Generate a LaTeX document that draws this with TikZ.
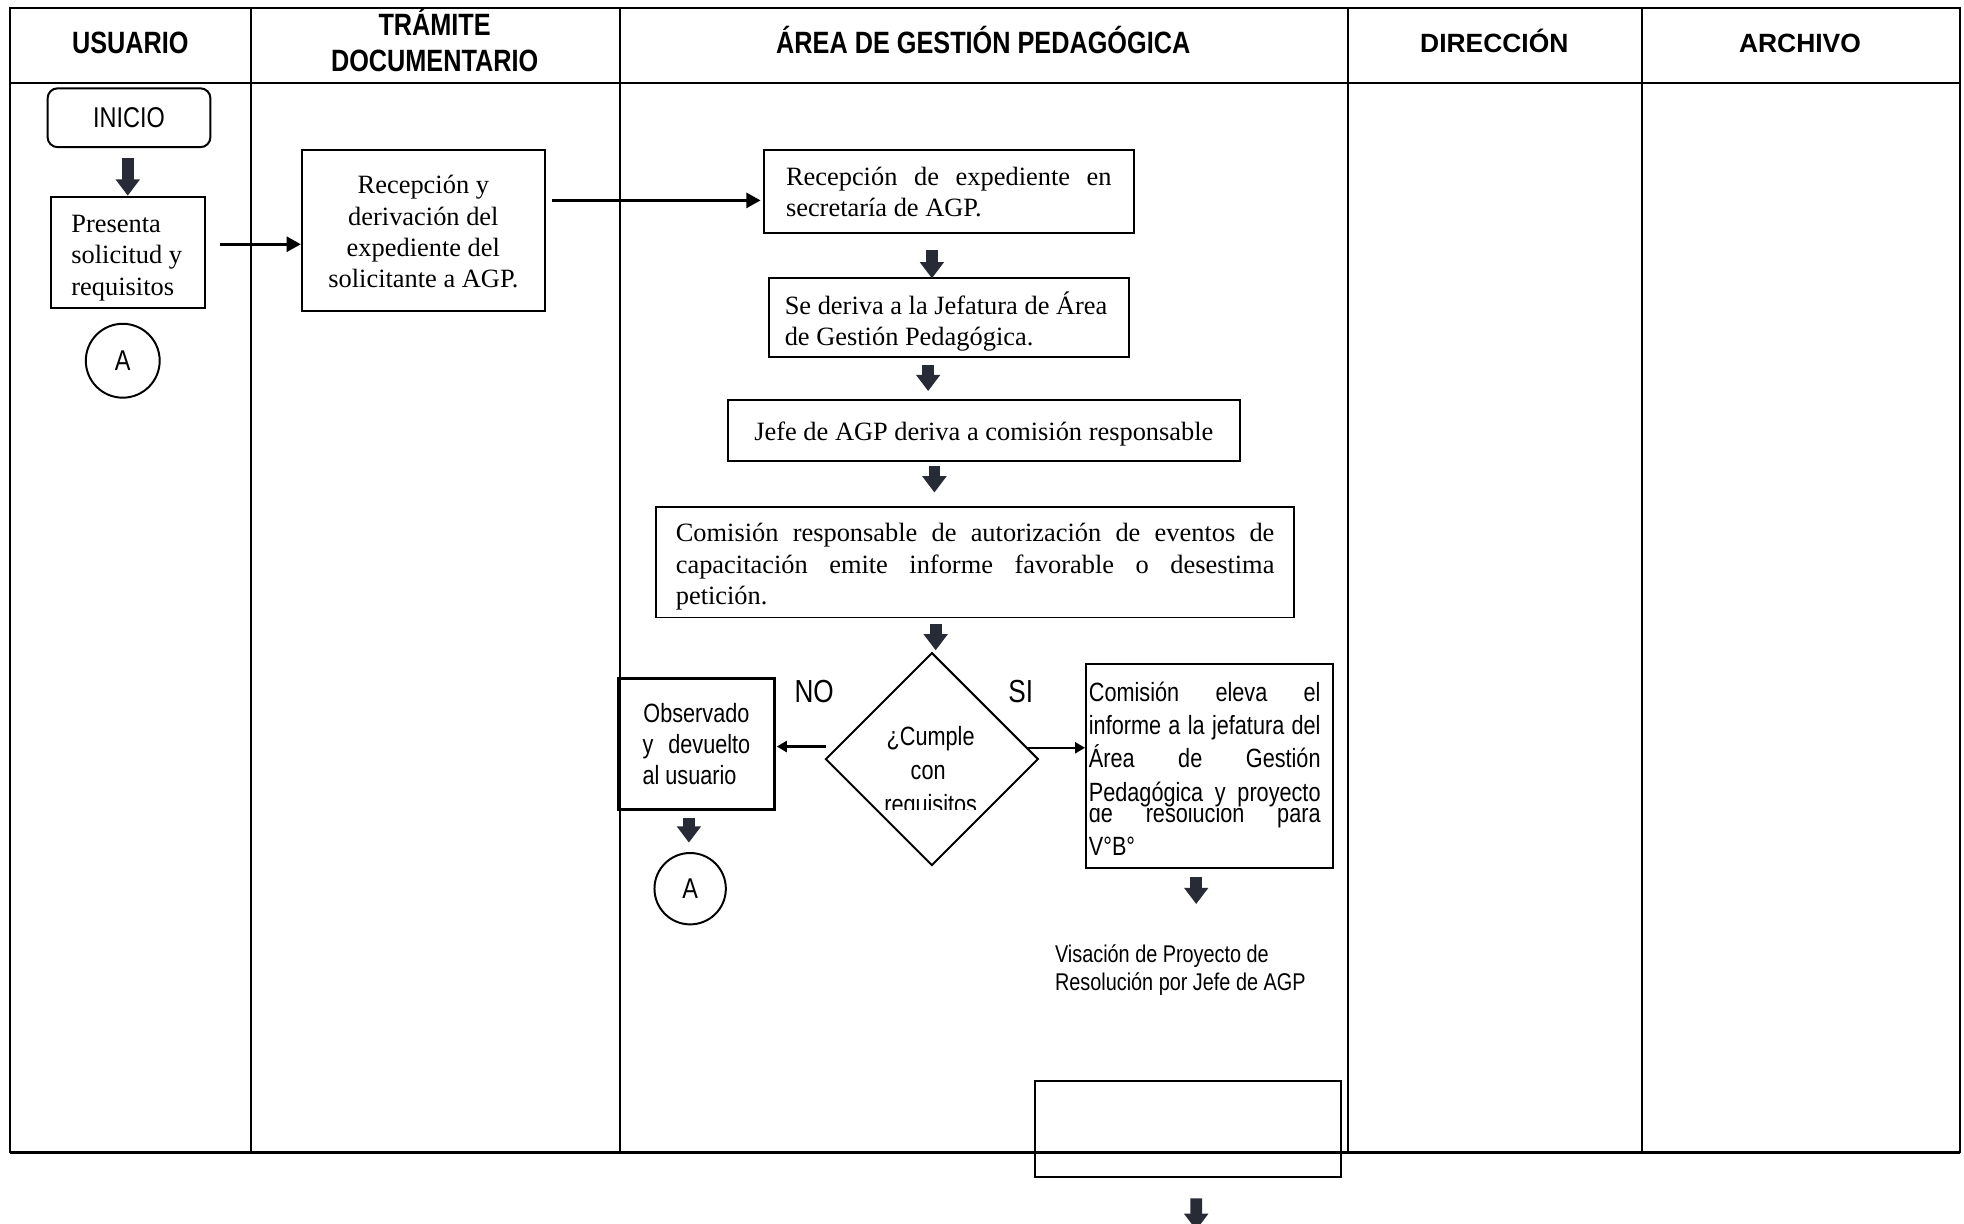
\documentclass[tikz,border=0pt]{standalone}
\usepackage{fontspec}
\setmainfont{Liberation Serif}
\newfontfamily\narrowsans[FakeStretch=0.82]{Liberation Sans}
\newfontfamily\plainsans{Liberation Sans}
\usetikzlibrary{arrows.meta,shapes.geometric,calc}
\definecolor{arrowdark}{RGB}{38,43,54}

% text lines of a fixed width: justified, flush left, centred
\newcommand\jl[1]{\hbox to \hsize{\spaceskip=.25em plus 1fil\relax #1}}
\newcommand\fl[1]{\hbox to \hsize{#1\hfil}}
\newcommand\cl[1]{\hbox to \hsize{\hfil#1\hfil}}
% a block of such lines; the optional space pushes it down inside its frame
\newcommand\para[3][0pt]{\vbox{\hsize=#2\relax\vskip#1\relax #3}}
\newcommand\jlw[2]{\hbox to #1{\spaceskip=.25em plus 1fil\relax #2}}

\tikzset{
  lane/.style={line width=0.9pt},
  box/.style={draw, line width=0.9pt, inner sep=0pt},
  serif/.style={font=\fontsize{12}{14.2}\selectfont},
  narrow/.style={font=\narrowsans\fontsize{12}{14.2}\selectfont},
  head/.style={font=\narrowsans\bfseries\fontsize{14}{16}\selectfont, align=center, inner sep=0pt},
  headw/.style={font=\plainsans\bfseries\fontsize{12}{14}\selectfont, inner sep=0pt},
  blockarrow/.style={draw=arrowdark, line width=5.3pt,
    -{Triangle[length=7.4pt,width=10.6pt]}},
  flow/.style={line width=1.4pt, -{Triangle[length=6.5pt,width=6.8pt]}},
  flowthin/.style={line width=1pt, -{Triangle[length=4.5pt,width=5pt]}},
  linetext/.style={narrow, anchor=base west, inner sep=0pt},
}

\begin{document}
\begin{tikzpicture}[x=0.02cm,y=-0.02cm]
\useasboundingbox (0,0) rectangle (1568,977);
\clip (0,0) rectangle (1568,977);

% swimlane grid
\draw[lane] (8,6) rectangle (1565,920);
\draw[lane] (8,66) -- (1565,66);
\foreach \x in {200,495,1076,1311} \draw[lane] (\x,6) -- (\x,920);
\draw[line width=1.3pt] (8,920) -- (1565,920);

% lane headings
\node[head, anchor=base] (hu) at (104,42.8) {USUARIO};
\node[head] (ht) at (347,32) {TRÁMITE\\DOCUMENTARIO};
\node[head, anchor=base] (ha) at (785,42.8) {ÁREA DE GESTIÓN PEDAGÓGICA};
\node[headw, anchor=base] (hd) at (1193,41.6) {DIRECCIÓN};
\node[headw, anchor=base] (hr) at (1437,41.6) {ARCHIVO};

% USUARIO lane
\node[box, rounded corners=0.16cm, minimum width=2.6cm, minimum height=0.94cm,
      font=\narrowsans\fontsize{13}{15}\selectfont] (ini) at (103,94) {INICIO};
\node[box, serif, minimum width=2.46cm, minimum height=1.78cm] (b3) at (102.5,201.5)
  {\para[0.18cm]{1.82cm}{\fl{Presenta}\fl{solicitud y}\fl{requisitos}}};
\node[draw, circle, line width=0.9pt, inner sep=0pt, minimum size=1.18cm,
      font=\narrowsans\fontsize{13}{15}\selectfont] (ca) at (98,288) {A};

% TRÁMITE DOCUMENTARIO lane
\node[box, serif, minimum width=3.88cm, minimum height=2.56cm] (b6) at (338,184)
  {\para[0.04cm]{3.4cm}{\cl{Recepción y}\cl{derivación del}\cl{expediente del}\cl{solicitante a AGP.}}};

% ÁREA DE GESTIÓN PEDAGÓGICA lane
\node[box, serif, minimum width=5.9cm, minimum height=1.32cm] (b8) at (757.5,153)
  {\para{5.2cm}{\jl{Recepción de expediente en}\fl{secretaría de AGP.}}};
\node[box, serif, minimum width=5.74cm, minimum height=1.26cm] (b9) at (757.5,253.5)
  {\para[0.12cm]{5.24cm}{\fl{Se deriva a la Jefatura de Área}\fl{de Gestión Pedagógica.}}};
\node[box, serif, minimum width=8.18cm, minimum height=0.98cm] (b10) at (785.5,343.5)
  {\para[0.12cm]{7.5cm}{\cl{Jefe de AGP deriva a comisión responsable}}};
\node[box, serif, minimum width=10.18cm, minimum height=1.76cm] (b11) at (778.5,449)
  {\para[0.14cm]{9.56cm}{\jl{Comisión responsable de autorización de eventos de}%
   \jl{capacitación emite informe favorable o desestima}\fl{petición.}}};

\node[draw, diamond, line width=0.9pt, inner sep=0pt, minimum width=3.4cm,
      minimum height=3.4cm] (d) at (744,606) {};
\node[narrow, anchor=base, inner sep=0pt] (q1) at (743,594.8) {¿Cumple};
\node[narrow, anchor=base, inner sep=0pt] (q2) at (741,622.2) {con};
\begin{scope}
  \clip (660,600) rectangle (830,646);
  \node[narrow, anchor=base, inner sep=0pt] (q3) at (743,649.6) {requisitos};
\end{scope}
\node[font=\narrowsans\fontsize{14.5}{16}\selectfont, inner sep=0pt] (no) at (650,552) {NO};
\node[font=\narrowsans\fontsize{14.5}{16}\selectfont, inner sep=0pt] (si) at (815,552) {SI};

\node[draw, line width=1.4pt, inner sep=0pt, narrow, minimum width=2.48cm,
      minimum height=2.08cm] (obs) at (556,594)
  {\para{1.72cm}{\cl{Observado}\jl{y devuelto}\fl{al usuario}}};
\node[draw, circle, line width=0.9pt, inner sep=0pt, minimum size=1.14cm,
      font=\narrowsans\fontsize{13}{15}\selectfont] (cb) at (551,709.5) {A};

\node[box, minimum width=3.94cm, minimum height=3.26cm] (c16) at (965.5,611.5) {};
\node[linetext] (t1) at (869,560) {\jlw{3.7cm}{Comisión eleva el}};
\node[linetext] (t2) at (869,586.5) {\jlw{3.7cm}{informe a la jefatura del}};
\node[linetext] (t3) at (869,613) {\jlw{3.7cm}{Área de Gestión}};
\begin{scope}
  \clip (867,645.5) rectangle (1064,672);
  \node[linetext] (t5) at (869,656.5) {\jlw{3.7cm}{de resolución para}};
\end{scope}
\node[linetext] (t4) at (869,639.5) {\jlw{3.7cm}{Pedagógica y proyecto}};
\node[linetext] (t6) at (869,683) {V°B°};

\node[font=\narrowsans\fontsize{11}{13}\selectfont, align=left, anchor=west,
      inner sep=0pt] (vis) at (842,774.5)
  {Visación de Proyecto de\\Resolución por Jefe de AGP};

\node[box, minimum width=4.9cm, minimum height=1.54cm] (eb) at (948.5,901.5) {};
\coordinate (tail) at (955,982);

% connectors
\draw[flow] ($(b3.east)+(11,-6.5)$) -- ($(b6.west)+(0,11)$);
\draw[flow] ($(b6.east)+(5,-24)$) -- ($(b8.west)+(-2,7)$);
\draw[flowthin] ($(d.west)+(1,-10)$) -- ($(obs.east)+(1,2)$);
\draw[flowthin] ($(d.east)+(-11,-9)$) -- ($(c16.west)+(0,-14.5)$);

% block arrows
\draw[blockarrow] ($(ini.south)+(-1,8)$) -- ($(b3.north)+(-0.5,0)$);
\draw[blockarrow] ($(b8.south)+(-13.5,13)$) -- ($(b9.north)+(-13.5,1)$);
\draw[blockarrow] ($(b9.south)+(-16.5,6)$) -- ($(b10.north)+(-44.5,-6)$);
\draw[blockarrow] ($(b10.south)+(-39.5,3)$) -- ($(b11.north)+(-32.5,-11)$);
\draw[blockarrow] ($(b11.south)+(-31.5,4)$) -- ($(d.north)+(3,-1)$);
\draw[blockarrow] ($(obs.south)+(-6,6)$) -- ($(cb.north)+(-1,-7.5)$);
\draw[blockarrow] ($(c16.south)+(-10.5,6)$) -- ($(c16.south)+(-10.5,28)$);
\draw[blockarrow] ($(eb.south)+(6.5,16)$) -- (tail);
\end{tikzpicture}
\end{document}
